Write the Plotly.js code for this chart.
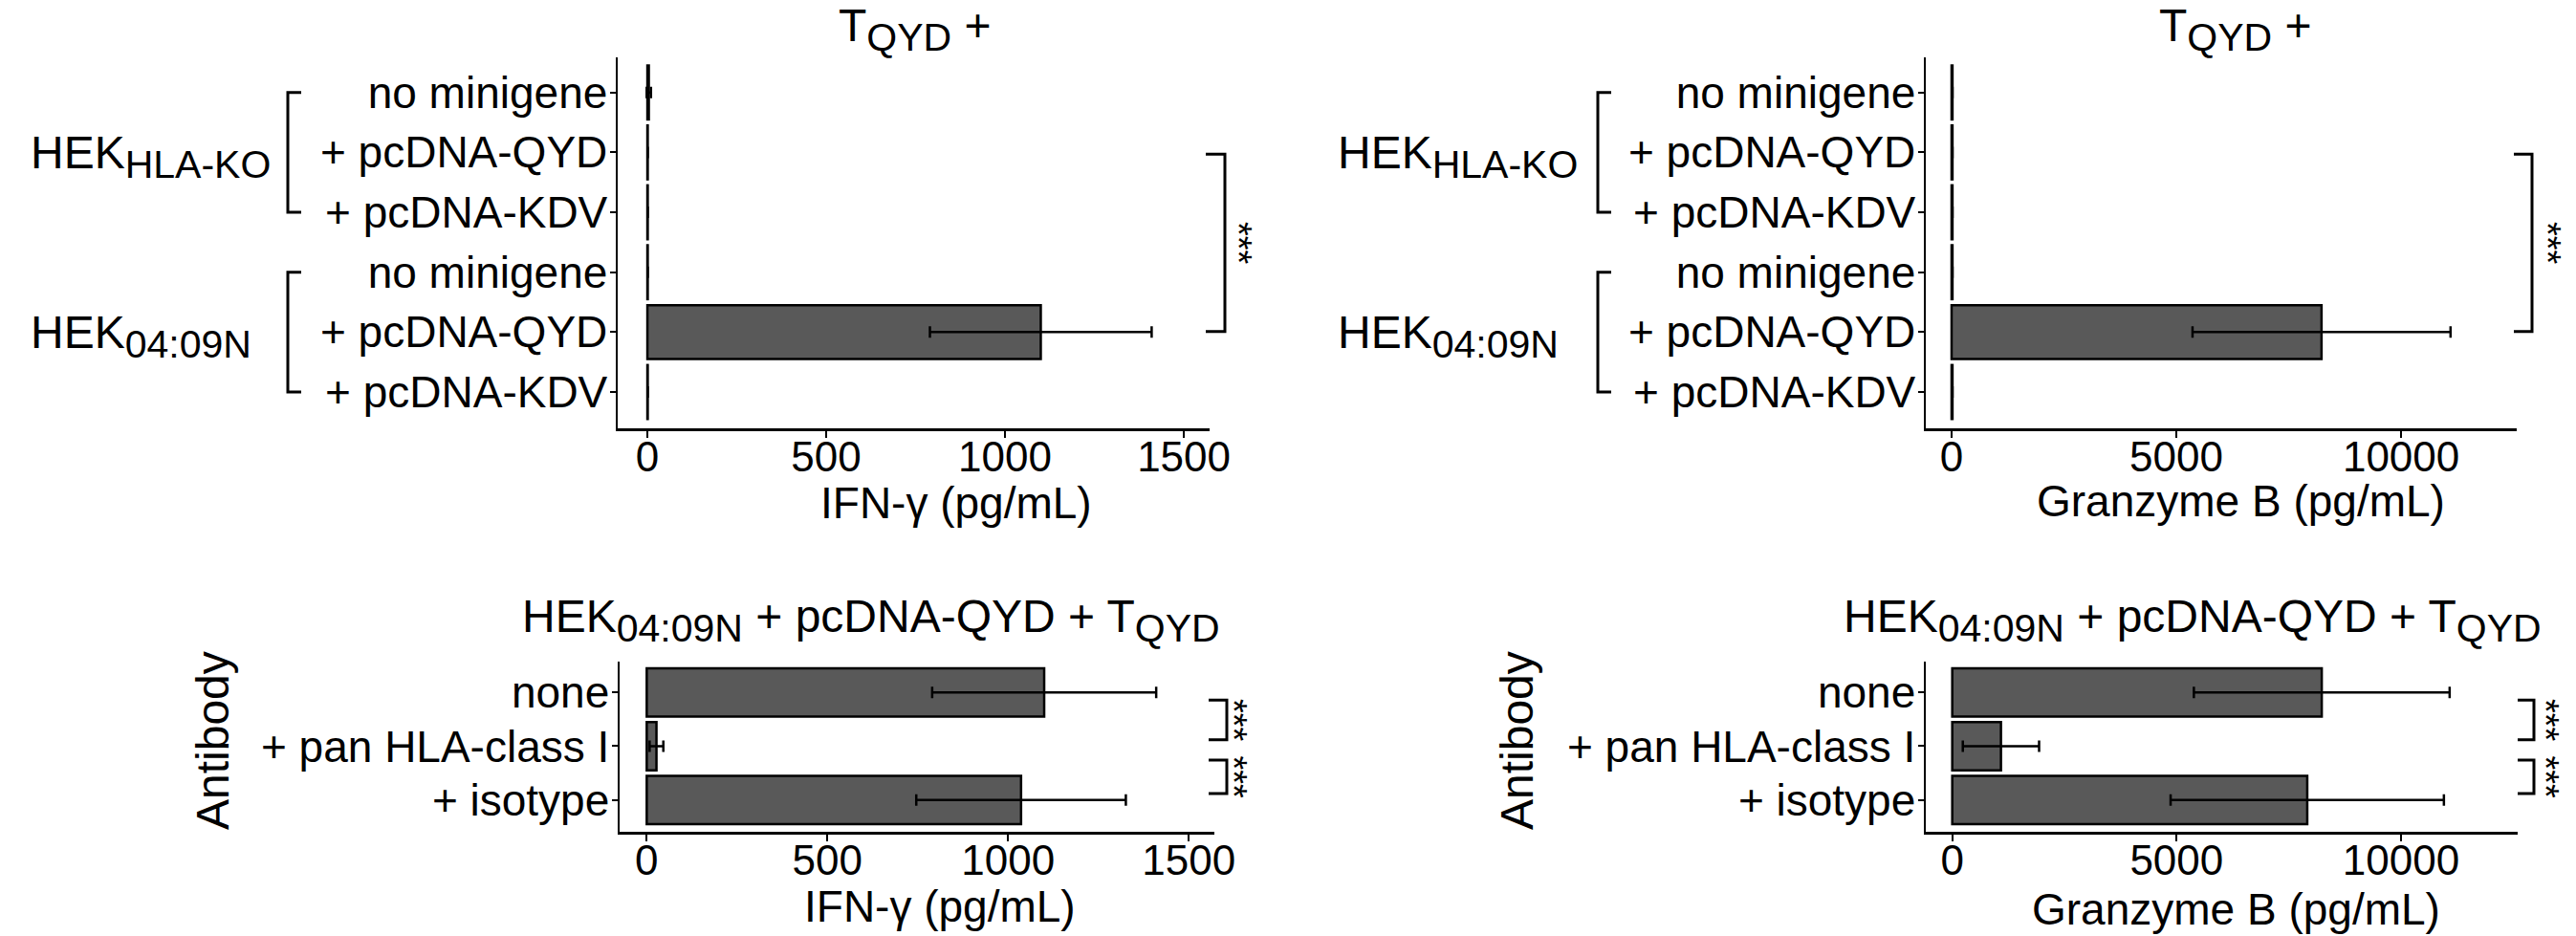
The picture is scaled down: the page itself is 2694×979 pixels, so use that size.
<!DOCTYPE html>
<html><head><meta charset="utf-8">
<script src="https://cdn.plot.ly/plotly-3.0.1.min.js"></script>
<style>html,body{margin:0;padding:0;background:#fff}#chart{width:2694px;height:979px}</style>
</head><body><div id="chart"></div>
<script>
// ---------------- data ----------------
const conditionLabels = ['no minigene', '+ pcDNA-QYD', '+ pcDNA-KDV', 'no minigene', '+ pcDNA-QYD', '+ pcDNA-KDV'];
const cellLineLabels = ['HEK<sub><span style="font-size:41px">HLA-KO</span></sub>', 'HEK<sub><span style="font-size:41px">04:09N</span></sub>'];
const ifngMean = [4, 1, 1, 1, 1100, 1];
const ifngErr = [6, 0, 0, 0, 310, 0];
const gzbMean = [20, 20, 20, 20, 8230, 20];
const gzbErr = [0, 0, 0, 0, 2870, 0];

const antibodyLabels = ['none', '+ pan HLA-class I', '+ isotype'];
const ifngAbMean = [1100, 27, 1036];
const ifngAbErr = [310, 19, 290];
const gzbAbMean = [8234, 1085, 7911];
const gzbAbErr = [2850, 850, 3045];

const ifngTicks = [0, 500, 1000, 1500];
const gzbTicks = [0, 5000, 10000];
const sigLabel = '***';

// ---------------- helpers ----------------
const W = 2694, H = 979;
const F = 'Liberation Sans, Arial, Helvetica, sans-serif';
const px = x => x / W;
const py = y => 1 - y / H;
const idx = arr => arr.map((_, i) => i);

const barBase = {
  type: 'bar', orientation: 'h', width: 0.9,
  marker: {color: '#595959', line: {color: '#000', width: 2.5}},
  hoverinfo: 'none', showlegend: false
};
const err = a => ({type: 'data', array: a, color: '#000', thickness: 2.5, width: 6, visible: true});

const traces = [
  Object.assign({}, barBase, {x: ifngMean, y: idx(conditionLabels), error_x: err(ifngErr), xaxis: 'x', yaxis: 'y'}),
  Object.assign({}, barBase, {x: gzbMean, y: idx(conditionLabels), error_x: err(gzbErr), xaxis: 'x2', yaxis: 'y2'}),
  Object.assign({}, barBase, {x: ifngAbMean, y: idx(antibodyLabels), error_x: err(ifngAbErr), xaxis: 'x3', yaxis: 'y3'}),
  Object.assign({}, barBase, {x: gzbAbMean, y: idx(antibodyLabels), error_x: err(gzbAbErr), xaxis: 'x4', yaxis: 'y4'})
];

const xBase = {
  showline: true, linecolor: '#000', linewidth: 2.5, mirror: false,
  ticks: 'outside', ticklen: 7, tickwidth: 2, tickcolor: '#000',
  showgrid: false, zeroline: false, automargin: false, fixedrange: true,
  tickformat: 'd', ticklabelstandoff: -17,
  tickfont: {family: F, size: 44, color: '#000'}
};
const yBase = Object.assign({}, xBase, {tickfont: {family: F, size: 46, color: '#000'}, ticklen: 6, ticklabelstandoff: -7});

// plot areas (pixels)
const topY = [60, 448], botY = [692, 870];
const leftTopX = [646, 1265], rightTopX = [2014, 2632];
const leftBotX = [648, 1270], rightBotX = [2014, 2633];
const dx = a => [px(a[0]), px(a[1])];
const dy = a => [py(a[1]), py(a[0])];

const layout = {
  width: W, height: H,
  margin: {l: 0, r: 0, t: 0, b: 0, pad: 0},
  paper_bgcolor: '#fff', plot_bgcolor: '#fff',
  font: {family: F, color: '#000'},
  showlegend: false,
  xaxis: Object.assign({}, xBase, {domain: dx(leftTopX), anchor: 'y', range: [-83, 1572], tickvals: ifngTicks}),
  yaxis: Object.assign({}, yBase, {domain: dy(topY), anchor: 'x', range: [5.606, -0.586], tickvals: idx(conditionLabels), ticktext: conditionLabels}),
  xaxis2: Object.assign({}, xBase, {domain: dx(rightTopX), anchor: 'y2', range: [-574, 12572], tickvals: gzbTicks}),
  yaxis2: Object.assign({}, yBase, {domain: dy(topY), anchor: 'x2', range: [5.606, -0.586], tickvals: idx(conditionLabels), ticktext: conditionLabels}),
  xaxis3: Object.assign({}, xBase, {domain: dx(leftBotX), anchor: 'y3', range: [-75, 1571], tickvals: ifngTicks}),
  yaxis3: Object.assign({}, yBase, {domain: dy(botY), anchor: 'x3', range: [2.593, -0.575], tickvals: idx(antibodyLabels), ticktext: antibodyLabels}),
  xaxis4: Object.assign({}, xBase, {domain: dx(rightBotX), anchor: 'y4', range: [-590, 12600], tickvals: gzbTicks}),
  yaxis4: Object.assign({}, yBase, {domain: dy(botY), anchor: 'x4', range: [2.593, -0.575], tickvals: idx(antibodyLabels), ticktext: antibodyLabels}),
  shapes: [],
  annotations: []
};

const ann = (o) => Object.assign({showarrow: false, xref: 'paper', yref: 'paper', font: {family: F, size: 48, color: '#000'}}, o);
const lineStyle = {color: '#000', width: 3};

// titles
const titleTop = 'T<sub><span style="font-size:41px">QYD</span></sub> +';
const titleBot = 'HEK<sub><span style="font-size:41px">04:09N</span></sub> + pcDNA-QYD + T<sub><span style="font-size:41px">QYD</span></sub>';
layout.annotations.push(
  ann({text: titleTop, x: px(875), y: py(-2), xanchor: 'left', yanchor: 'top'}),
  ann({text: titleTop, x: px(2256), y: py(-2), xanchor: 'left', yanchor: 'top'}),
  ann({text: titleBot, x: px(911), y: py(616), xanchor: 'center', yanchor: 'top'}),
  ann({text: titleBot, x: px(2293), y: py(616), xanchor: 'center', yanchor: 'top'})
);
// axis titles
layout.annotations.push(
  ann({text: 'IFN-γ (pg/mL)', font: {family: F, size: 46, color: '#000'}, x: px(1000), y: py(498), xanchor: 'center', yanchor: 'top'}),
  ann({text: 'Granzyme B (pg/mL)', font: {family: F, size: 46, color: '#000'}, x: px(2343), y: py(496), xanchor: 'center', yanchor: 'top'}),
  ann({text: 'IFN-γ (pg/mL)', font: {family: F, size: 46, color: '#000'}, x: px(983), y: py(920), xanchor: 'center', yanchor: 'top'}),
  ann({text: 'Granzyme B (pg/mL)', font: {family: F, size: 46, color: '#000'}, x: px(2338), y: py(923), xanchor: 'center', yanchor: 'top'}),
  ann({text: 'Antibody', font: {family: F, size: 48, color: '#000'}, textangle: -90, x: px(222), y: py(774), xanchor: 'center', yanchor: 'middle'}),
  ann({text: 'Antibody', font: {family: F, size: 48, color: '#000'}, textangle: -90, x: px(1586), y: py(775), xanchor: 'center', yanchor: 'middle'})
);

// group labels and brackets (top panels)
const groups = [[0, 2], [3, 5]];
[['y', 30, 301], ['y2', 1397, 1671]].forEach(([yr, labX, brX]) => {
  groups.forEach((g, gi) => {
    layout.annotations.push(ann({text: cellLineLabels[gi], x: px(labX), yref: yr, y: (g[0] + g[1]) / 2 + 0.08, xanchor: 'left', yanchor: 'middle'}));
    layout.shapes.push({type: 'path', xref: 'paper', yref: yr, line: lineStyle,
      path: `M${px(brX + 14)},${g[0]} L${px(brX)},${g[0]} L${px(brX)},${g[1]} L${px(brX + 14)},${g[1]}`});
  });
});

// significance brackets
const sig = (yr, x0, x1, ya, yb, sx) => {
  layout.shapes.push({type: 'path', xref: 'paper', yref: yr, line: lineStyle,
    path: `M${px(x0)},${ya} L${px(x1)},${ya} L${px(x1)},${yb} L${px(x0)},${yb}`});
  layout.annotations.push(ann({text: sigLabel, font: {family: F, size: 38, color: '#000'}, textangle: 90, x: px(sx), yref: yr, y: (ya + yb) / 2, xanchor: 'center', yanchor: 'middle'}));
};
sig('y', 1261, 1281, 1.03, 3.99, 1295);
sig('y2', 2629, 2648, 1.03, 3.99, 2664);
sig('y3', 1264, 1283, 0.14, 0.88, 1290);
sig('y3', 1264, 1283, 1.26, 1.88, 1290);
sig('y4', 2633, 2650, 0.14, 0.88, 2662);
sig('y4', 2633, 2650, 1.26, 1.88, 2662);

Plotly.newPlot('chart', traces, layout, {staticPlot: true, displayModeBar: false});
</script>
</body></html>
